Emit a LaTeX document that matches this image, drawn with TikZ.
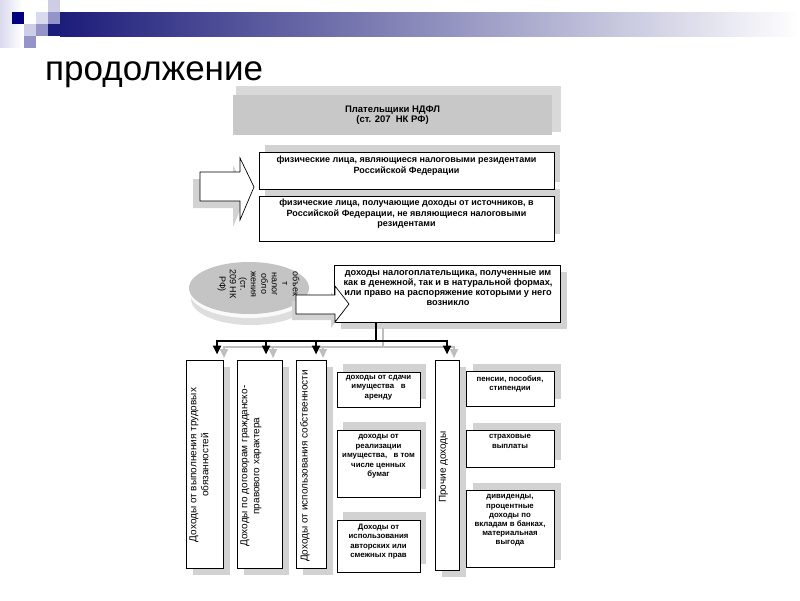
\documentclass[tikz,border=0pt]{standalone}
\usepackage{fontspec}
\setmainfont{Liberation Sans}
\usetikzlibrary{shadows,arrows.meta,calc,shapes.geometric}
\definecolor{barL}{HTML}{1C1C7A}
\definecolor{navy}{HTML}{000080}
\definecolor{hdr}{HTML}{C8C8C8}
\definecolor{shd}{HTML}{D2D2D2}
\definecolor{hshd}{HTML}{D9D9D9}
\definecolor{ell}{HTML}{C4C4C4}
\definecolor{rim}{HTML}{DEDEDE}
\definecolor{sqA}{HTML}{9494C8}
\definecolor{sqB}{HTML}{CDCDE6}
\definecolor{sqC}{HTML}{DADAEE}
\definecolor{cshd}{HTML}{BEBEBE}
\begin{document}
\begin{tikzpicture}[x=1pt,y=-1pt,
  wbox/.style={draw=black, fill=white, line width=0.7pt, inner sep=0pt, anchor=north west},
  shur/.style={general shadow={shadow xshift=6pt, shadow yshift=7pt, fill=shd}},
  shur2/.style={general shadow={shadow xshift=7pt, shadow yshift=7pt, fill=shd}},
  shdr/.style={general shadow={shadow xshift=7pt, shadow yshift=-7pt, fill=shd}},
  btxt/.style={font=\fontsize{9}{10.5}\selectfont\bfseries, align=center, inner sep=0pt, anchor=north},
  stxt/.style={font=\fontsize{7.8}{9.5}\selectfont\bfseries, align=center, inner sep=0pt, anchor=north},
  ctxt/.style={font=\fontsize{10}{12}\selectfont, align=center, inner sep=0pt, rotate=90},
  conn/.style={line width=2.6pt, black},
  gconn/.style={line width=2pt, cshd},
  tipk/.style={-{Triangle[width=8pt,length=9pt]}},
  arrowshape/.style={draw=black, fill=white, line width=0.7pt, line join=miter},
]
\useasboundingbox (0,0) rectangle (800,600);
\fill[white] (0,0) rectangle (800,600);

% top decoration
\shade[left color=sqC, right color=white] (0,0) rectangle (22,47);
\shade[left color=barL, right color=white] (60,12) rectangle (800,36);
\fill[barL] (48,24) rectangle (60,36);
\fill[navy] (12,12) rectangle (24,24);
\fill[sqB] (24,24) rectangle (36,36);
\fill[sqA] (36,24) rectangle (48,36);
\fill[sqC] (36,12) rectangle (48,24);
\fill[sqB] (48,0) rectangle (60,12);
\fill[sqA] (48,12) rectangle (60,24);
\fill[sqA] (24,36) rectangle (36,48);

% title
\node[anchor=base west, inner sep=0pt, font=\fontsize{35}{40}\selectfont] (title) at (45,80) {продолжение};

% header
\fill[hshd] (236,86) rectangle (561,132);
\node[fill=hdr, inner sep=0pt, anchor=north west, minimum width=319pt, minimum height=40pt] (hdr) at (233,95) {};
\node[btxt, font=\fontsize{9.5}{10}\selectfont\bfseries] (hdrt) at (392.5,106) {Плательщики НДФЛ\\(ст. 207 \ НК РФ)};

% residents
\node[wbox, shur, minimum width=295pt, minimum height=45pt] (r2) at (259,196) {};
\node[wbox, shur, minimum width=295pt, minimum height=37pt] (r1) at (259,152) {};
\node[btxt] (r1t) at (406.5,156) {физические лица, являющиеся налоговыми резидентами\\Российской Федерации};
\node[btxt] (r2t) at (406.5,199) {физические лица, получающие доходы от источников, в\\Российской Федерации, не являющиеся налоговыми\\резидентами};

% big arrow 1
\fill[shd] (193,179) -- (233,179) -- (233,165) -- (247,194) -- (233,227) -- (233,208) -- (193,208) -- cycle;
\draw[arrowshape] (200,172) -- (240,172) -- (240,158) -- (254,187) -- (240,220) -- (240,201) -- (200,201) -- cycle;

% ellipse
\fill[rim] (251,299) ellipse [x radius=60, y radius=26];
\fill[white!96!gray] (249.5,292) ellipse [x radius=60, y radius=26];
\node[fill=ell, ellipse, inner sep=0pt, minimum width=120pt, minimum height=52pt] (ellN) at (249,288) {};
\node[font=\fontsize{9}{10.5}\selectfont, align=center, inner sep=0pt, rotate=-90] (ellT) at (258.5,284) {объек\\т\\налог\\обло\\жения\\(ст.\\209 НК\\РФ)};

% income box
\node[wbox, shdr, minimum width=226pt, minimum height=57pt] (inc) at (334,265) {};
\node[btxt, font=\fontsize{9.2}{10}\selectfont\bfseries] (inct) at (448,270.5) {доходы налогоплательщика, полученные им\\как в денежной, так и в натуральной формах,\\или право на распоряжение которыми у него\\возникло};

% arrow 2
\fill[shd] (292,301) -- (331,301) -- (331,292) -- (345,310) -- (331,328) -- (331,320) -- (292,320) -- cycle;
\draw[arrowshape] (296,295) -- (335,295) -- (335,286) -- (349,304) -- (335,322) -- (335,314) -- (296,314) -- cycle;

% columns
\node[wbox, shdr, minimum width=37pt, minimum height=208pt] (c1) at (186,360) {};
\node[wbox, shdr, minimum width=45pt, minimum height=208pt] (c2) at (237,360) {};
\node[wbox, shdr, minimum width=30pt, minimum height=208pt] (c3) at (296,360) {};
\node[wbox, shdr, minimum width=24pt, minimum height=210pt] (c4) at (435,360) {};
\node[ctxt] (c1t) at (199,465) {Доходы от выполнения трудовых\\обязанностей};
\node[ctxt] (c2t) at (251,466) {Доходы по договорам гражданско-\\правового характера};
\node[ctxt] (c3t) at (305,466) {Доходы от использования собственности};
\node[ctxt] (c4t) at (443.5,467) {Прочие доходы};

% middle small boxes
\node[wbox, general shadow={shadow xshift=6pt, shadow yshift=8pt, fill=shd}, minimum width=83pt, minimum height=35pt] (mA) at (337,372) {};
\node[wbox, general shadow={shadow xshift=6pt, shadow yshift=8pt, fill=shd}, minimum width=83pt, minimum height=67pt] (mB) at (337,430) {};
\node[wbox, general shadow={shadow xshift=6pt, shadow yshift=8pt, fill=shd}, minimum width=83pt, minimum height=52pt] (mC) at (337,520) {};
\node[stxt] (mAt) at (378.5,375) {доходы от сдачи\\имущества \ \ в\\аренду};
\node[stxt] (mBt) at (378.5,434.5) {доходы от\\реализации\\имущества, \ \ в том\\числе ценных\\бумаг};
\node[stxt] (mCt) at (378.5,523.5) {Доходы от\\использования\\авторских или\\смежных прав};

% right boxes
\node[wbox, shur2, minimum width=88pt, minimum height=35pt] (rD) at (466,371) {};
\node[wbox, shur2, minimum width=88pt, minimum height=37pt] (rE) at (466,430) {};
\node[wbox, shur2, minimum width=88pt, minimum height=77pt] (rF) at (466,490) {};
\node[stxt] (rDt) at (510,375.5) {пенсии, пособия,\\стипендии};
\node[stxt] (rEt) at (510,434.5) {страховые\\выплаты};
\node[stxt, font=\fontsize{7.8}{9.1}\selectfont\bfseries] (rFt) at (510,494.5) {дивиденды,\\процентные\\доходы по\\вкладам в банках,\\материальная\\выгода};

% connectors
\coordinate (hub) at (376,341);
\coordinate (j1) at (217,341);
\coordinate (j2) at (266,341);
\coordinate (j3) at (316,341);
\coordinate (j4) at (447,341);
% gray shadow connectors
\draw[gconn] ($(inc.south west -| hub)+(7,5)$) -- ($(hub)+(7,6)$);
\draw[gconn] ($(j1)+(7,6)$) -- ($(j4)+(7,6)$);
\foreach \j/\c in {j1/c1,j2/c2,j3/c3,j4/c4}{
  \draw[gconn, tipk] ($(\j)+(7,5)$) -- ($(\c.north -| \j)+(7,-2)$);
}
% black connectors
\draw[conn] (inc.south west -| hub) -- (hub);
\draw[conn, line cap=rect] (j1) -- (j4);
\foreach \j/\c in {j1/c1,j2/c2,j3/c3,j4/c4}{
  \draw[conn, tipk, shorten >=5.5pt] (\j) -- (\c.north -| \j);
}
\end{tikzpicture}
\end{document}
